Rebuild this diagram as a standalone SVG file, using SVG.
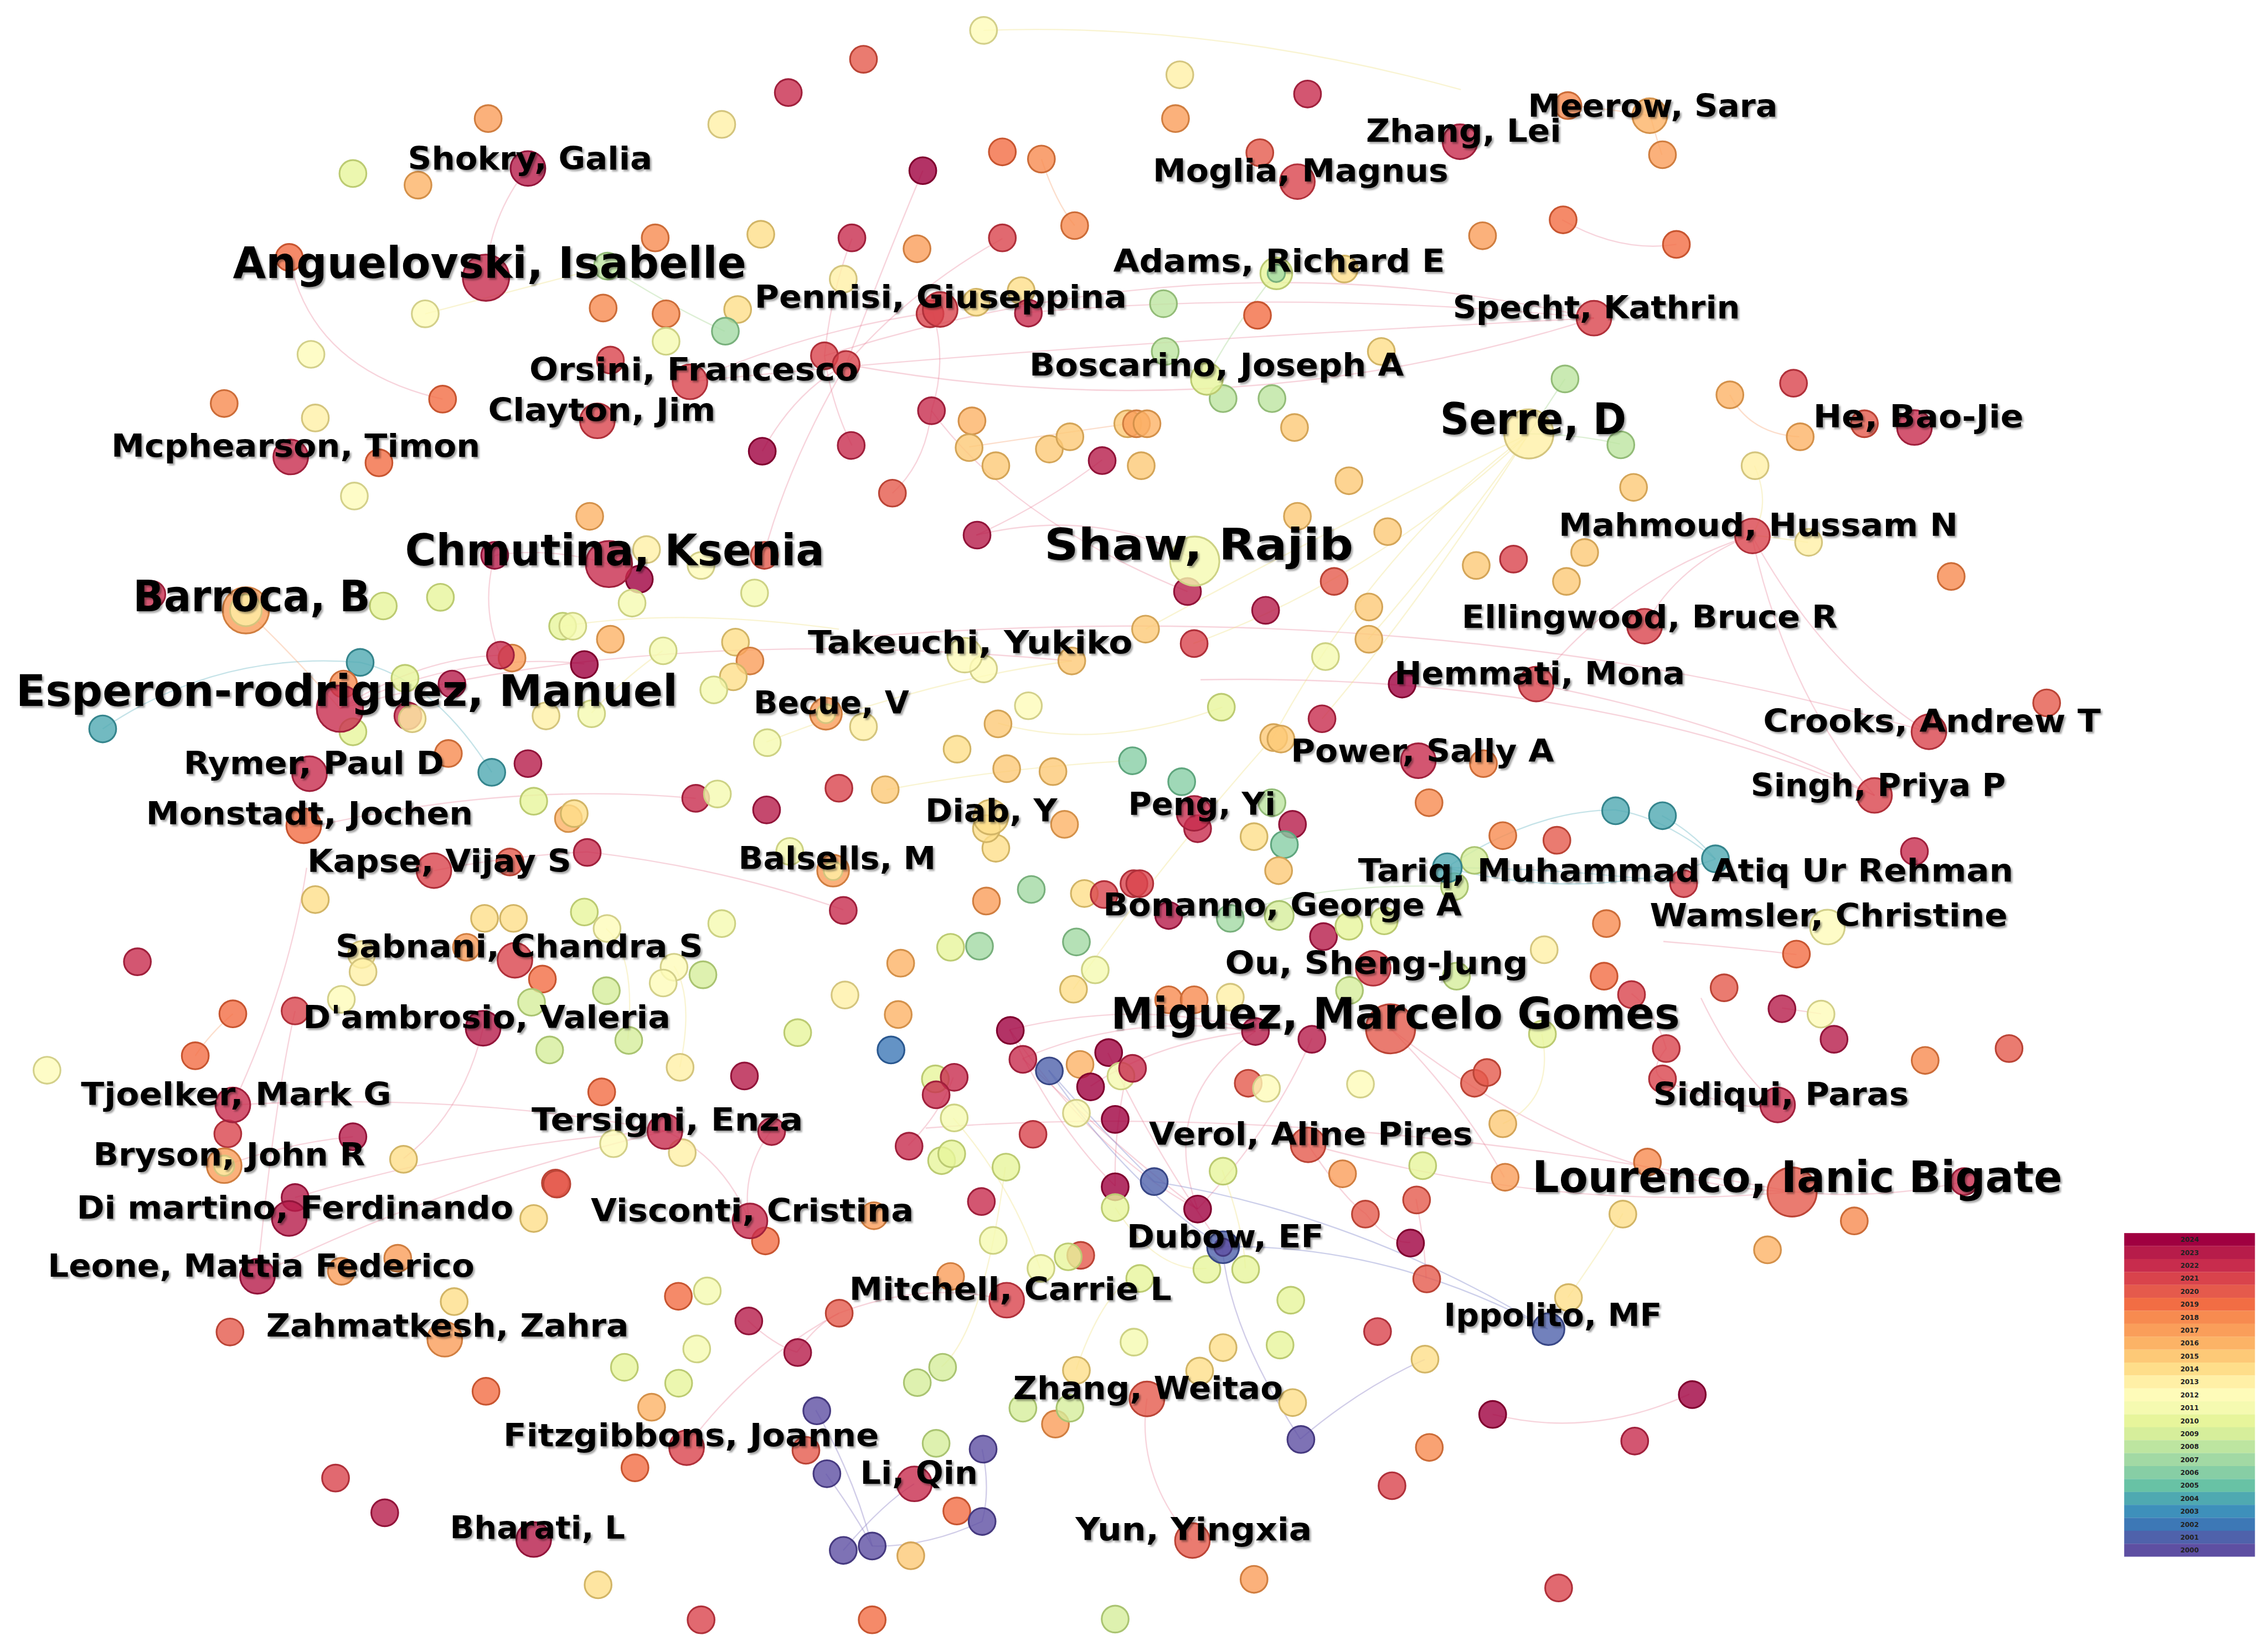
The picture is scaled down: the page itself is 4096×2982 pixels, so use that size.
<svg xmlns="http://www.w3.org/2000/svg" width="4096" height="2982" viewBox="0 0 4096 2982">
<defs>
<filter id="sh" x="-5%" y="-30%" width="110%" height="160%"><feDropShadow dx="1.2" dy="1.3" stdDeviation="0.7" flood-color="#000" flood-opacity="0.35"/></filter>
<style>
circle{stroke-width:1.2;fill-opacity:0.8}
.c24{fill:#a00040;stroke:#80002f}.c23{fill:#b71c4a;stroke:#92143a}.c22{fill:#c82c4d;stroke:#a0203c}.c21{fill:#d9434c;stroke:#b0303a}.c20{fill:#e55a4c;stroke:#bb4436}
.c19{fill:#f26d44;stroke:#c85530}.c18{fill:#f78b50;stroke:#cc6c38}.c17{fill:#fa9e5a;stroke:#d07e40}.c16{fill:#fcb366;stroke:#d4914a}.c15{fill:#fdc977;stroke:#d4a558}
.c14{fill:#fede8a;stroke:#d2b566}.c13{fill:#fff0a6;stroke:#d4c57e}.c12{fill:#fefbb9;stroke:#d3d08a}.c11{fill:#f5fab0;stroke:#cdd284}.c10{fill:#e7f59b;stroke:#bccb72}
.c09{fill:#d6ee9b;stroke:#aac472}.c08{fill:#bde5a0;stroke:#93bc78}.c07{fill:#a2d9a4;stroke:#78b07c}.c06{fill:#87cea5;stroke:#5fa67e}.c05{fill:#68c2a5;stroke:#459a7f}
.c04{fill:#4fa9b1;stroke:#35858d}.c03{fill:#3e90bb;stroke:#2a6f95}.c02{fill:#3d78b6;stroke:#2a5890}.c01{fill:#4f62ab;stroke:#384786}.c00{fill:#5e4fa2;stroke:#463a80}
path{fill:none;stroke-width:0.9}
.er{stroke:#e8849a;stroke-opacity:0.35}.ey{stroke:#efe38e;stroke-opacity:0.4}.eo{stroke:#f7ad80;stroke-opacity:0.4}.eb{stroke:#8f95d0;stroke-opacity:0.45}
.ep{stroke:#9a90cc;stroke-opacity:0.45}.et{stroke:#7fc0cc;stroke-opacity:0.45}.eg{stroke:#b3dca2;stroke-opacity:0.45}
.lb{font-family:"DejaVu Sans","Liberation Sans",sans-serif;font-weight:bold;font-size:22px;fill:#000;filter:url(#sh)}
.lg{font-size:30px}
.yr{font-family:"DejaVu Sans","Liberation Sans",sans-serif;font-weight:bold;font-size:4.6px;fill:#222;text-anchor:middle}
</style>
</defs>
<rect width="4096" height="2982" fill="#fff"/>
<g transform="scale(2.6122)">
<g id="connectors">
<path class="er" d="M336,192 Q338,150 365,116"/>
<path class="er" d="M200,178 Q215,255 306,276"/>
<path class="er" d="M570,246 Q840,160 1102,220"/>
<path class="er" d="M585,252 Q850,300 1102,220"/>
<path class="er" d="M477,264 Q560,228 645,216"/>
<path class="er" d="M585,252 Q630,200 693,165"/>
<path class="er" d="M570,246 Q575,200 589,165"/>
<path class="er" d="M585,252 Q612,180 638,118"/>
<path class="er" d="M527,312 Q550,270 585,252"/>
<path class="er" d="M589,308 Q575,280 570,246"/>
<path class="er" d="M644,284 Q655,250 645,216"/>
<path class="er" d="M644,284 Q640,320 617,341"/>
<path class="er" d="M644,284 Q700,360 821,409"/>
<path class="er" d="M585,252 Q545,320 528,384"/>
<path class="er" d="M711,216 Q900,200 1102,220"/>
<path class="er" d="M477,264 Q700,240 1102,220"/>
<path class="er" d="M675,370 Q760,350 828,388"/>
<path class="er" d="M762,318 Q720,350 675,370"/>
<path class="er" d="M1211,370 Q1160,390 1137,433"/>
<path class="er" d="M1211,370 Q1235,480 1296,550"/>
<path class="er" d="M1211,370 Q1120,400 1062,473"/>
<path class="er" d="M1211,370 Q1260,460 1333,506"/>
<path class="er" d="M830,470 Q1100,465 1296,550"/>
<path class="er" d="M600,440 Q1000,410 1333,506"/>
<path class="er" d="M1062,473 Q1200,500 1296,550"/>
<path class="er" d="M421,390 Q380,378 342,384"/>
<path class="er" d="M342,384 Q332,420 346,453"/>
<path class="er" d="M235,490 Q290,455 346,453"/>
<path class="er" d="M235,490 Q320,450 404,459"/>
<path class="er" d="M235,490 Q450,430 741,457"/>
<path class="er" d="M300,602 Q350,592 406,589"/>
<path class="er" d="M406,589 Q500,600 583,629"/>
<path class="er" d="M210,573 Q350,540 481,552"/>
<path class="er" d="M161,764 Q320,755 460,782"/>
<path class="er" d="M204,828 Q330,790 460,782"/>
<path class="er" d="M178,882 Q300,820 460,782"/>
<path class="er" d="M161,764 Q200,680 212,600"/>
<path class="er" d="M178,882 Q190,760 204,699"/>
<path class="er" d="M334,711 Q320,770 279,801"/>
<path class="er" d="M460,782 Q500,800 518,844"/>
<path class="er" d="M533,782 Q512,810 518,844"/>
<path class="er" d="M698,712 Q730,780 771,820"/>
<path class="er" d="M698,712 Q760,800 828,836"/>
<path class="er" d="M707,732 Q780,800 828,836"/>
<path class="er" d="M766,728 Q800,800 845,862"/>
<path class="er" d="M780,738 Q770,780 771,820"/>
<path class="er" d="M868,713 Q800,760 828,836"/>
<path class="er" d="M868,713 Q780,700 707,732"/>
<path class="er" d="M868,713 Q800,720 754,751"/>
<path class="er" d="M907,718 Q880,780 828,836"/>
<path class="er" d="M698,712 Q790,690 868,713"/>
<path class="er" d="M659,745 Q650,770 628,792"/>
<path class="er" d="M961,711 Q1100,820 1239,824"/>
<path class="er" d="M961,711 Q1010,760 1040,814"/>
<path class="er" d="M904,791 Q1080,840 1239,824"/>
<path class="er" d="M1128,687 Q1145,700 1152,725"/>
<path class="er" d="M1152,725 Q1140,740 1149,746"/>
<path class="er" d="M1149,746 Q1200,770 1229,764"/>
<path class="er" d="M1176,690 Q1200,740 1229,764"/>
<path class="er" d="M1232,697 L1259,701"/>
<path class="er" d="M1032,978 Q1100,995 1168,964"/>
<path class="er" d="M824,1065 Q785,1020 793,967"/>
<path class="er" d="M1080,152 Q1120,175 1159,169"/>
<path class="er" d="M474,1001 Q520,940 580,908"/>
<path class="er" d="M517,913 Q535,930 551,935"/>
<path class="er" d="M551,935 Q565,915 580,908"/>
<path class="er" d="M696,899 Q640,885 580,908"/>
<path class="er" d="M944,839 Q960,860 975,859"/>
<path class="er" d="M979,829 Q985,860 986,884"/>
<path class="er" d="M904,791 Q930,830 944,839"/>
<path class="er" d="M1358,817 Q1300,830 1239,824"/>
<path class="er" d="M1150,651 Q1200,655 1242,660"/>
<path class="er" d="M155,806 Q200,790 244,786"/>
<path class="er" d="M640,780 Q900,760 1239,824"/>
<path class="eb" d="M725,740 Q780,820 845,862"/>
<path class="eb" d="M845,862 Q960,860 1070,919"/>
<path class="eb" d="M798,817 Q940,840 1070,919"/>
<path class="eb" d="M725,740 Q760,780 798,817"/>
<path class="ep" d="M845,862 Q850,920 899,995"/>
<path class="ep" d="M564,975 Q590,1020 603,1069"/>
<path class="ep" d="M571,1019 Q590,1045 603,1069"/>
<path class="ep" d="M679,1002 Q685,1030 679,1052"/>
<path class="ep" d="M603,1069 Q640,1070 679,1052"/>
<path class="ep" d="M583,1072 Q610,1040 632,1026"/>
<path class="ep" d="M899,995 Q940,960 985,940"/>
<path class="et" d="M1117,560 Q1150,565 1186,594"/>
<path class="et" d="M1149,564 Q1170,575 1186,594"/>
<path class="et" d="M1000,600 Q1060,560 1117,560"/>
<path class="et" d="M1000,600 Q1100,625 1186,594"/>
<path class="et" d="M71,504 Q150,450 249,458"/>
<path class="et" d="M249,458 Q300,470 340,534"/>
<path class="et" d="M1000,600 Q1080,600 1164,611"/>
<path class="ey" d="M1057,300 Q950,380 880,510"/>
<path class="ey" d="M1057,300 Q930,360 792,435"/>
<path class="ey" d="M1057,300 Q950,400 825,445"/>
<path class="ey" d="M1057,300 Q1000,380 946,442"/>
<path class="ey" d="M1057,300 Q980,420 914,497"/>
<path class="ey" d="M680,21 Q840,15 1010,62"/>
<path class="ey" d="M613,546 Q700,530 781,526"/>
<path class="ey" d="M530,513 Q640,470 741,457"/>
<path class="ey" d="M742,684 Q800,600 880,510"/>
<path class="ey" d="M1213,322 Q1225,350 1211,370"/>
<path class="ey" d="M1250,375 Q1230,372 1211,370"/>
<path class="ey" d="M659,773 Q700,820 719,877"/>
<path class="ey" d="M651,945 Q680,920 695,807"/>
<path class="ey" d="M744,947 Q760,900 781,884"/>
<path class="ey" d="M419,642 Q440,660 434,719"/>
<path class="ey" d="M466,668 Q480,690 470,738"/>
<path class="ey" d="M1066,715 Q1075,760 1039,777"/>
<path class="ey" d="M1084,897 Q1110,860 1122,839"/>
<path class="ey" d="M409,493 Q430,470 458,450"/>
<path class="ey" d="M294,217 Q360,200 420,184"/>
<path class="ey" d="M389,433 Q470,420 580,435"/>
<path class="ey" d="M690,500 Q760,520 845,489"/>
<path class="ey" d="M771,835 Q800,880 834,877"/>
<path class="ey" d="M845,809 Q860,850 861,877"/>
<path class="eo" d="M235,490 Q200,450 170,422"/>
<path class="eo" d="M1196,273 Q1210,300 1244,302"/>
<path class="eo" d="M1084,73 Q1110,75 1141,80"/>
<path class="eo" d="M1141,80 Q1145,95 1149,107"/>
<path class="eo" d="M720,110 Q730,140 743,156"/>
<path class="eo" d="M161,701 Q145,715 135,730"/>
<path class="eo" d="M670,309 Q730,300 780,293"/>
<path class="eg" d="M882,189 Q850,230 834,262"/>
<path class="eg" d="M805,243 Q820,255 834,262"/>
<path class="eg" d="M420,184 Q460,210 501,229"/>
<path class="eg" d="M1082,262 Q1070,280 1057,300"/>
<path class="eg" d="M1120,307 Q1090,300 1057,300"/>
<path class="eg" d="M850,635 Q900,610 1005,613"/>
</g>
<g id="nodes">
<g id="n1"><circle class="c17" cx="337.5" cy="82" r="9.3"/></g>
<g id="n2"><circle class="c10" cx="244" cy="120" r="9.3"/></g>
<g id="n3"><circle class="c16" cx="289" cy="128" r="9.3"/></g>
<g id="n4"><circle class="c19" cx="200" cy="178" r="9.3"/></g>
<g id="n5"><circle class="c12" cx="294" cy="217" r="9.3"/></g>
<g id="n6"><circle class="c12" cx="215" cy="245" r="9.3"/></g>
<g id="n7"><circle class="c18" cx="155" cy="279" r="9.3"/></g>
<g id="n8"><circle class="c19" cx="306" cy="276" r="9.3"/></g>
<g id="n9"><circle class="c13" cx="218" cy="289" r="9.3"/></g>
<g id="n10"><circle class="c19" cx="262" cy="320" r="9.3"/></g>
<g id="n11"><circle class="c12" cx="245" cy="343" r="9.3"/></g>
<g id="n12"><circle class="c23" cx="342" cy="384" r="9.3"/></g>
<g id="n13"><circle class="c22" cx="105" cy="411" r="9.3"/></g>
<g id="n14"><circle class="c10" cx="265" cy="419" r="9.3"/></g>
<g id="n15"><circle class="c10" cx="304.5" cy="413" r="9.3"/></g>
<g id="n16"><circle class="c10" cx="389" cy="433" r="9.3"/></g>
<g id="n17"><circle class="c04" cx="249" cy="458" r="9.3"/></g>
<g id="n18"><circle class="c17" cx="354" cy="455" r="9.3"/></g>
<g id="n19"><circle class="c22" cx="346" cy="453" r="9.3"/></g>
<g id="n20"><circle class="c10" cx="280" cy="469" r="9.3"/></g>
<g id="n21"><circle class="c18" cx="237.5" cy="473" r="9.3"/></g>
<g id="n22"><circle class="c23" cx="312.5" cy="473" r="9.3"/></g>
<g id="n23"><circle class="c22" cx="282" cy="495" r="9.3"/></g>
<g id="n24"><circle class="c13" cx="285" cy="497" r="9.3"/></g>
<g id="n25"><circle class="c13" cx="377.5" cy="495" r="9.3"/></g>
<g id="n26"><circle class="c10" cx="244" cy="506" r="9.3"/></g>
<g id="n27"><circle class="c04" cx="71" cy="504" r="9.3"/></g>
<g id="n28"><circle class="c18" cx="310" cy="521" r="9.3"/></g>
<g id="n29"><circle class="c04" cx="340" cy="534" r="9.3"/></g>
<g id="n30"><circle class="c23" cx="365" cy="528" r="9.3"/></g>
<g id="n31"><circle class="c10" cx="369" cy="554" r="9.3"/></g>
<g id="n32"><circle class="c16" cx="393" cy="566" r="9.3"/></g>
<g id="n33"><circle class="c12" cx="680" cy="21" r="9.3"/></g>
<g id="n34"><circle class="c20" cx="597" cy="41" r="9.3"/></g>
<g id="n35"><circle class="c22" cx="545" cy="64" r="9.3"/></g>
<g id="n36"><circle class="c13" cx="499" cy="86" r="9.3"/></g>
<g id="n37"><circle class="c19" cx="693" cy="105" r="9.3"/></g>
<g id="n38"><circle class="c18" cx="720" cy="110" r="9.3"/></g>
<g id="n39"><circle class="c24" cx="638" cy="118" r="9.3"/></g>
<g id="n40"><circle class="c18" cx="743" cy="156" r="9.3"/></g>
<g id="n41"><circle class="c18" cx="453" cy="164.5" r="9.3"/></g>
<g id="n42"><circle class="c14" cx="526" cy="162" r="9.3"/></g>
<g id="n43"><circle class="c22" cx="589" cy="164.5" r="9.3"/></g>
<g id="n44"><circle class="c17" cx="634" cy="172" r="9.3"/></g>
<g id="n45"><circle class="c21" cx="693" cy="164.5" r="9.3"/></g>
<g id="n46"><circle class="c08" cx="420" cy="184" r="9.3"/></g>
<g id="n47"><circle class="c13" cx="583" cy="193" r="9.3"/></g>
<g id="n48"><circle class="c18" cx="417" cy="213" r="9.3"/></g>
<g id="n49"><circle class="c18" cx="460.5" cy="217" r="9.3"/></g>
<g id="n50"><circle class="c14" cx="510" cy="214" r="9.3"/></g>
<g id="n51"><circle class="c07" cx="501.5" cy="229" r="9.3"/></g>
<g id="n52"><circle class="c11" cx="460.5" cy="236" r="9.3"/></g>
<g id="n53"><circle class="c14" cx="675" cy="209" r="9.3"/></g>
<g id="n54"><circle class="c14" cx="706" cy="201" r="9.3"/></g>
<g id="n55"><circle class="c22" cx="711" cy="216.5" r="9.3"/></g>
<g id="n56"><circle class="c21" cx="643" cy="217" r="9.3"/></g>
<g id="n57"><circle class="c21" cx="422" cy="249" r="9.3"/></g>
<g id="n58"><circle class="c21" cx="570" cy="246" r="9.3"/></g>
<g id="n59"><circle class="c21" cx="585" cy="252" r="9.3"/></g>
<g id="n60"><circle class="c22" cx="644" cy="284" r="9.3"/></g>
<g id="n61"><circle class="c24" cx="527" cy="312" r="9.3"/></g>
<g id="n62"><circle class="c22" cx="588.5" cy="308" r="9.3"/></g>
<g id="n63"><circle class="c20" cx="617" cy="341" r="9.3"/></g>
<g id="n64"><circle class="c16" cx="672" cy="291" r="9.3"/></g>
<g id="n65"><circle class="c15" cx="670" cy="309.5" r="9.3"/></g>
<g id="n66"><circle class="c15" cx="688.5" cy="322" r="9.3"/></g>
<g id="n67"><circle class="c15" cx="725.5" cy="310.5" r="9.3"/></g>
<g id="n68"><circle class="c15" cx="739.7" cy="302" r="9.3"/></g>
<g id="n69"><circle class="c15" cx="779.7" cy="293" r="9.3"/></g>
<g id="n70"><circle class="c15" cx="789" cy="322" r="9.3"/></g>
<g id="n71"><circle class="c23" cx="762" cy="318.5" r="9.3"/></g>
<g id="n72"><circle class="c23" cx="675.5" cy="370" r="9.3"/></g>
<g id="n73"><circle class="c16" cx="407.7" cy="357" r="9.3"/></g>
<g id="n74"><circle class="c13" cx="447" cy="380" r="9.3"/></g>
<g id="n75"><circle class="c24" cx="442" cy="400.5" r="9.3"/></g>
<g id="n76"><circle class="c12" cx="484.7" cy="391" r="9.3"/></g>
<g id="n77"><circle class="c20" cx="528.5" cy="384" r="9.3"/></g>
<g id="n78"><circle class="c11" cx="437" cy="417" r="9.3"/></g>
<g id="n79"><circle class="c11" cx="521.7" cy="410" r="9.3"/></g>
<g id="n80"><circle class="c11" cx="396" cy="433" r="9.3"/></g>
<g id="n81"><circle class="c16" cx="422" cy="442" r="9.3"/></g>
<g id="n82"><circle class="c11" cx="458.5" cy="450" r="9.3"/></g>
<g id="n83"><circle class="c14" cx="508.5" cy="444" r="9.3"/></g>
<g id="n84"><circle class="c17" cx="518.5" cy="457" r="9.3"/></g>
<g id="n85"><circle class="c14" cx="507" cy="468" r="9.3"/></g>
<g id="n86"><circle class="c24" cx="404" cy="459.5" r="9.3"/></g>
<g id="n87"><circle class="c11" cx="493.5" cy="477" r="9.3"/></g>
<g id="n88"><circle class="c11" cx="409" cy="493.5" r="9.3"/></g>
<g id="n89"><circle class="c13" cx="597" cy="502.5" r="9.3"/></g>
<g id="n90"><circle class="c11" cx="530.5" cy="513.5" r="9.3"/></g>
<g id="n91"><circle class="c12" cx="680" cy="462.5" r="9.3"/></g>
<g id="n92"><circle class="c15" cx="741" cy="457" r="9.3"/></g>
<g id="n93"><circle class="c12" cx="711" cy="488" r="9.3"/></g>
<g id="n94"><circle class="c15" cx="690" cy="500.5" r="9.3"/></g>
<g id="n95"><circle class="c14" cx="661.7" cy="518" r="9.3"/></g>
<g id="n96"><circle class="c15" cx="696" cy="531.5" r="9.3"/></g>
<g id="n97"><circle class="c15" cx="728" cy="533.5" r="9.3"/></g>
<g id="n98"><circle class="c06" cx="783" cy="526" r="9.3"/></g>
<g id="n99"><circle class="c22" cx="481" cy="552" r="9.3"/></g>
<g id="n100"><circle class="c11" cx="496" cy="549" r="9.3"/></g>
<g id="n101"><circle class="c23" cx="530" cy="560" r="9.3"/></g>
<g id="n102"><circle class="c21" cx="580" cy="545" r="9.3"/></g>
<g id="n103"><circle class="c15" cx="612" cy="546" r="9.3"/></g>
<g id="n104"><circle class="c14" cx="397" cy="562.5" r="9.3"/></g>
<g id="n105"><circle class="c16" cx="736" cy="570" r="9.3"/></g>
<g id="n106"><circle class="c13" cx="815.7" cy="51.7" r="9.3"/></g>
<g id="n107"><circle class="c22" cx="904" cy="65" r="9.3"/></g>
<g id="n108"><circle class="c17" cx="812.7" cy="82" r="9.3"/></g>
<g id="n109"><circle class="c20" cx="871" cy="105.6" r="9.3"/></g>
<g id="n110"><circle class="c18" cx="1084" cy="73" r="9.3"/></g>
<g id="n111"><circle class="c17" cx="1149.4" cy="107" r="9.3"/></g>
<g id="n112"><circle class="c17" cx="1025" cy="163" r="9.3"/></g>
<g id="n113"><circle class="c19" cx="1080.7" cy="152" r="9.3"/></g>
<g id="n114"><circle class="c19" cx="1159" cy="169" r="9.3"/></g>
<g id="n115"><circle class="c14" cx="929.4" cy="186" r="9.3"/></g>
<g id="n116"><circle class="c08" cx="804.4" cy="210" r="9.3"/></g>
<g id="n117"><circle class="c19" cx="869.4" cy="218" r="9.3"/></g>
<g id="n118"><circle class="c08" cx="805.6" cy="243" r="9.3"/></g>
<g id="n119"><circle class="c14" cx="955" cy="243" r="9.3"/></g>
<g id="n120"><circle class="c08" cx="845.6" cy="275.6" r="9.3"/></g>
<g id="n121"><circle class="c08" cx="879.4" cy="275.6" r="9.3"/></g>
<g id="n122"><circle class="c17" cx="785.7" cy="293" r="9.3"/></g>
<g id="n123"><circle class="c16" cx="793" cy="293" r="9.3"/></g>
<g id="n124"><circle class="c15" cx="895" cy="295.6" r="9.3"/></g>
<g id="n125"><circle class="c08" cx="1082" cy="262" r="9.3"/></g>
<g id="n126"><circle class="c08" cx="1120.6" cy="307.6" r="9.3"/></g>
<g id="n127"><circle class="c15" cx="1129.4" cy="337" r="9.3"/></g>
<g id="n128"><circle class="c15" cx="932.6" cy="332.4" r="9.3"/></g>
<g id="n129"><circle class="c15" cx="897" cy="357" r="9.3"/></g>
<g id="n130"><circle class="c15" cx="959.4" cy="367.6" r="9.3"/></g>
<g id="n131"><circle class="c23" cx="821" cy="409" r="9.3"/></g>
<g id="n132"><circle class="c23" cx="875" cy="422" r="9.3"/></g>
<g id="n133"><circle class="c20" cx="922.4" cy="402" r="9.3"/></g>
<g id="n134"><circle class="c15" cx="1020.6" cy="391" r="9.3"/></g>
<g id="n135"><circle class="c21" cx="1046.4" cy="386.6" r="9.3"/></g>
<g id="n136"><circle class="c15" cx="1095.6" cy="382" r="9.3"/></g>
<g id="n137"><circle class="c15" cx="1083" cy="402" r="9.3"/></g>
<g id="n138"><circle class="c15" cx="792" cy="435" r="9.3"/></g>
<g id="n139"><circle class="c21" cx="825.6" cy="445" r="9.3"/></g>
<g id="n140"><circle class="c15" cx="946.4" cy="419.7" r="9.3"/></g>
<g id="n141"><circle class="c15" cx="946.4" cy="442" r="9.3"/></g>
<g id="n142"><circle class="c11" cx="916.4" cy="454" r="9.3"/></g>
<g id="n143"><circle class="c24" cx="969.4" cy="473" r="9.3"/></g>
<g id="n144"><circle class="c10" cx="844.4" cy="489" r="9.3"/></g>
<g id="n145"><circle class="c22" cx="914" cy="497" r="9.3"/></g>
<g id="n146"><circle class="c15" cx="880.6" cy="510" r="9.3"/></g>
<g id="n147"><circle class="c15" cx="885.6" cy="511" r="9.3"/></g>
<g id="n148"><circle class="c18" cx="1025.6" cy="528" r="9.3"/></g>
<g id="n149"><circle class="c06" cx="817" cy="540.5" r="9.3"/></g>
<g id="n150"><circle class="c18" cx="988" cy="555" r="9.3"/></g>
<g id="n151"><circle class="c08" cx="879.4" cy="555" r="9.3"/></g>
<g id="n152"><circle class="c23" cx="893.6" cy="570" r="9.3"/></g>
<g id="n153"><circle class="c04" cx="1117" cy="560.6" r="9.3"/></g>
<g id="n154"><circle class="c04" cx="1149.4" cy="564" r="9.3"/></g>
<g id="n155"><circle class="c16" cx="1196" cy="273" r="9.3"/></g>
<g id="n156"><circle class="c21" cx="1240" cy="265" r="9.3"/></g>
<g id="n157"><circle class="c16" cx="1244.6" cy="302" r="9.3"/></g>
<g id="n158"><circle class="c20" cx="1289" cy="293" r="9.3"/></g>
<g id="n159"><circle class="c13" cx="1213.4" cy="322" r="9.3"/></g>
<g id="n160"><circle class="c13" cx="1250.4" cy="375" r="9.3"/></g>
<g id="n161"><circle class="c18" cx="1349" cy="398.6" r="9.3"/></g>
<g id="n162"><circle class="c20" cx="1415" cy="486" r="9.3"/></g>
<g id="n163"><circle class="c14" cx="218" cy="622" r="9.3"/></g>
<g id="n164"><circle class="c20" cx="352.5" cy="596" r="9.3"/></g>
<g id="n165"><circle class="c14" cx="335" cy="635" r="9.3"/></g>
<g id="n166"><circle class="c14" cx="355" cy="635" r="9.3"/></g>
<g id="n167"><circle class="c22" cx="95" cy="665" r="9.3"/></g>
<g id="n168"><circle class="c17" cx="322.5" cy="655" r="9.3"/></g>
<g id="n169"><circle class="c13" cx="250" cy="660" r="9.3"/></g>
<g id="n170"><circle class="c13" cx="251" cy="672" r="9.3"/></g>
<g id="n171"><circle class="c19" cx="375" cy="677" r="9.3"/></g>
<g id="n172"><circle class="c12" cx="236" cy="691" r="9.3"/></g>
<g id="n173"><circle class="c09" cx="367.5" cy="693" r="9.3"/></g>
<g id="n174"><circle class="c19" cx="161" cy="701" r="9.3"/></g>
<g id="n175"><circle class="c21" cx="204" cy="699" r="9.3"/></g>
<g id="n176"><circle class="c09" cx="380" cy="726" r="9.3"/></g>
<g id="n177"><circle class="c19" cx="135" cy="730" r="9.3"/></g>
<g id="n178"><circle class="c12" cx="32.5" cy="740" r="9.3"/></g>
<g id="n179"><circle class="c21" cx="157.5" cy="784" r="9.3"/></g>
<g id="n180"><circle class="c23" cx="244" cy="786" r="9.3"/></g>
<g id="n181"><circle class="c14" cx="279" cy="801.6" r="9.3"/></g>
<g id="n182"><circle class="c23" cx="204" cy="828" r="9.3"/></g>
<g id="n183"><circle class="c20" cx="384" cy="818" r="9.3"/></g>
<g id="n184"><circle class="c14" cx="369" cy="842.5" r="9.3"/></g>
<g id="n185"><circle class="c17" cx="236" cy="879" r="9.3"/></g>
<g id="n186"><circle class="c17" cx="275" cy="870" r="9.3"/></g>
<g id="n187"><circle class="c14" cx="314" cy="900" r="9.3"/></g>
<g id="n188"><circle class="c20" cx="159" cy="921" r="9.3"/></g>
<g id="n189"><circle class="c19" cx="336" cy="962" r="9.3"/></g>
<g id="n190"><circle class="c21" cx="232" cy="1022" r="9.3"/></g>
<g id="n191"><circle class="c23" cx="266" cy="1046" r="9.3"/></g>
<g id="n192"><circle class="c22" cx="406" cy="589.4" r="9.3"/></g>
<g id="n193"><circle class="c11" cx="546" cy="588.7" r="9.3"/></g>
<g id="n194"><circle class="c14" cx="688.5" cy="586.5" r="9.3"/></g>
<g id="n195"><circle class="c14" cx="682" cy="573" r="9.3"/></g>
<g id="n196"><circle class="c22" cx="583" cy="629.5" r="9.3"/></g>
<g id="n197"><circle class="c10" cx="404" cy="630.6" r="9.3"/></g>
<g id="n198"><circle class="c12" cx="419.7" cy="642" r="9.3"/></g>
<g id="n199"><circle class="c11" cx="499" cy="638.6" r="9.3"/></g>
<g id="n200"><circle class="c17" cx="682" cy="623" r="9.3"/></g>
<g id="n201"><circle class="c07" cx="713" cy="615" r="9.3"/></g>
<g id="n202"><circle class="c14" cx="749.7" cy="617.8" r="9.3"/></g>
<g id="n203"><circle class="c21" cx="763.4" cy="618.5" r="9.3"/></g>
<g id="n204"><circle class="c21" cx="784" cy="611" r="9.3"/></g>
<g id="n205"><circle class="c12" cx="466" cy="668.8" r="9.3"/></g>
<g id="n206"><circle class="c09" cx="486" cy="674" r="9.3"/></g>
<g id="n207"><circle class="c12" cx="458.5" cy="679.7" r="9.3"/></g>
<g id="n208"><circle class="c09" cx="419.2" cy="685" r="9.3"/></g>
<g id="n209"><circle class="c16" cx="622.7" cy="666" r="9.3"/></g>
<g id="n210"><circle class="c10" cx="657.2" cy="655" r="9.3"/></g>
<g id="n211"><circle class="c07" cx="677.2" cy="654.2" r="9.3"/></g>
<g id="n212"><circle class="c07" cx="744.2" cy="651.3" r="9.3"/></g>
<g id="n213"><circle class="c11" cx="757.2" cy="670.6" r="9.3"/></g>
<g id="n214"><circle class="c14" cx="742.2" cy="684" r="9.3"/></g>
<g id="n215"><circle class="c13" cx="584.2" cy="688" r="9.3"/></g>
<g id="n216"><circle class="c16" cx="621" cy="701.5" r="9.3"/></g>
<g id="n217"><circle class="c10" cx="551.5" cy="714" r="9.3"/></g>
<g id="n218"><circle class="c09" cx="434.7" cy="719.4" r="9.3"/></g>
<g id="n219"><circle class="c02" cx="616" cy="726" r="9.3"/></g>
<g id="n220"><circle class="c24" cx="698.5" cy="712.5" r="9.3"/></g>
<g id="n221"><circle class="c22" cx="707.2" cy="732.5" r="9.3"/></g>
<g id="n222"><circle class="c01" cx="725.5" cy="740.5" r="9.3"/></g>
<g id="n223"><circle class="c16" cx="746.7" cy="736" r="9.3"/></g>
<g id="n224"><circle class="c24" cx="766.5" cy="727.8" r="9.3"/></g>
<g id="n225"><circle class="c11" cx="775" cy="744" r="9.3"/></g>
<g id="n226"><circle class="c22" cx="783" cy="738.7" r="9.3"/></g>
<g id="n227"><circle class="c24" cx="754" cy="751.5" r="9.3"/></g>
<g id="n228"><circle class="c24" cx="771" cy="774" r="9.3"/></g>
<g id="n229"><circle class="c12" cx="744.2" cy="769.7" r="9.3"/></g>
<g id="n230"><circle class="c13" cx="470.2" cy="738" r="9.3"/></g>
<g id="n231"><circle class="c23" cx="514.7" cy="744" r="9.3"/></g>
<g id="n232"><circle class="c19" cx="416" cy="755" r="9.3"/></g>
<g id="n233"><circle class="c10" cx="646.7" cy="746" r="9.3"/></g>
<g id="n234"><circle class="c22" cx="659.7" cy="744.9" r="9.3"/></g>
<g id="n235"><circle class="c22" cx="647.2" cy="757" r="9.3"/></g>
<g id="n236"><circle class="c11" cx="659.7" cy="773" r="9.3"/></g>
<g id="n237"><circle class="c22" cx="628.5" cy="792.5" r="9.3"/></g>
<g id="n238"><circle class="c10" cx="651" cy="802.5" r="9.3"/></g>
<g id="n239"><circle class="c10" cx="658" cy="797.8" r="9.3"/></g>
<g id="n240"><circle class="c10" cx="695.5" cy="807" r="9.3"/></g>
<g id="n241"><circle class="c21" cx="714.2" cy="784.3" r="9.3"/></g>
<g id="n242"><circle class="c12" cx="424.2" cy="790.8" r="9.3"/></g>
<g id="n243"><circle class="c13" cx="471.7" cy="797" r="9.3"/></g>
<g id="n244"><circle class="c22" cx="533.5" cy="782.4" r="9.3"/></g>
<g id="n245"><circle class="c20" cx="385" cy="818.7" r="9.3"/></g>
<g id="n246"><circle class="c19" cx="529.2" cy="858" r="9.3"/></g>
<g id="n247"><circle class="c17" cx="604.2" cy="840.6" r="9.3"/></g>
<g id="n248"><circle class="c22" cx="678.5" cy="830.8" r="9.3"/></g>
<g id="n249"><circle class="c24" cx="771" cy="820.6" r="9.3"/></g>
<g id="n250"><circle class="c10" cx="771" cy="835" r="9.3"/></g>
<g id="n251"><circle class="c11" cx="686.7" cy="857.7" r="9.3"/></g>
<g id="n252"><circle class="c11" cx="719.7" cy="877" r="9.3"/></g>
<g id="n253"><circle class="c20" cx="747.2" cy="868" r="9.3"/></g>
<g id="n254"><circle class="c10" cx="738.5" cy="869" r="9.3"/></g>
<g id="n255"><circle class="c17" cx="657.2" cy="882.6" r="9.3"/></g>
<g id="n256"><circle class="c10" cx="788" cy="884" r="9.3"/></g>
<g id="n257"><circle class="c19" cx="469" cy="896.3" r="9.3"/></g>
<g id="n258"><circle class="c11" cx="489" cy="892.6" r="9.3"/></g>
<g id="n259"><circle class="c23" cx="517.7" cy="913.4" r="9.3"/></g>
<g id="n260"><circle class="c20" cx="580.2" cy="908" r="9.3"/></g>
<g id="n261"><circle class="c23" cx="551.5" cy="935.2" r="9.3"/></g>
<g id="n262"><circle class="c11" cx="481.7" cy="932.7" r="9.3"/></g>
<g id="n263"><circle class="c10" cx="431.7" cy="945.4" r="9.3"/></g>
<g id="n264"><circle class="c10" cx="469.2" cy="956.4" r="9.3"/></g>
<g id="n265"><circle class="c16" cx="450.5" cy="973" r="9.3"/></g>
<g id="n266"><circle class="c09" cx="651.7" cy="945.4" r="9.3"/></g>
<g id="n267"><circle class="c09" cx="634.2" cy="956" r="9.3"/></g>
<g id="n268"><circle class="c14" cx="744.2" cy="947.5" r="9.3"/></g>
<g id="n269"><circle class="c11" cx="784" cy="928" r="9.3"/></g>
<g id="n270"><circle class="c09" cx="707.2" cy="973.7" r="9.3"/></g>
<g id="n271"><circle class="c17" cx="729.7" cy="984.7" r="9.3"/></g>
<g id="n272"><circle class="c09" cx="739.7" cy="973.7" r="9.3"/></g>
<g id="n273"><circle class="c00" cx="564.7" cy="975.5" r="9.3"/></g>
<g id="n274"><circle class="c20" cx="557.2" cy="1002.8" r="9.3"/></g>
<g id="n275"><circle class="c19" cx="439" cy="1014.9" r="9.3"/></g>
<g id="n276"><circle class="c00" cx="571.7" cy="1019" r="9.3"/></g>
<g id="n277"><circle class="c09" cx="647.2" cy="998" r="9.3"/></g>
<g id="n278"><circle class="c00" cx="679.7" cy="1002" r="9.3"/></g>
<g id="n279"><circle class="c19" cx="661.5" cy="1044.8" r="9.3"/></g>
<g id="n280"><circle class="c00" cx="679" cy="1052" r="9.3"/></g>
<g id="n281"><circle class="c00" cx="583" cy="1072" r="9.3"/></g>
<g id="n282"><circle class="c00" cx="603" cy="1069" r="9.3"/></g>
<g id="n283"><circle class="c15" cx="629.7" cy="1075.7" r="9.3"/></g>
<g id="n284"><circle class="c14" cx="413.5" cy="1095.8" r="9.3"/></g>
<g id="n285"><circle class="c21" cx="484.7" cy="1120" r="9.3"/></g>
<g id="n286"><circle class="c19" cx="603" cy="1120" r="9.3"/></g>
<g id="n287"><circle class="c09" cx="771" cy="1119.5" r="9.3"/></g>
<g id="n288"><circle class="c22" cx="828" cy="573" r="9.3"/></g>
<g id="n289"><circle class="c14" cx="867" cy="578.5" r="9.3"/></g>
<g id="n290"><circle class="c06" cx="888" cy="584" r="9.3"/></g>
<g id="n291"><circle class="c15" cx="884" cy="602" r="9.3"/></g>
<g id="n292"><circle class="c21" cx="788" cy="611" r="9.3"/></g>
<g id="n293"><circle class="c18" cx="1039" cy="577.8" r="9.3"/></g>
<g id="n294"><circle class="c20" cx="1076.4" cy="581" r="9.3"/></g>
<g id="n295"><circle class="c09" cx="1019.4" cy="594.9" r="9.3"/></g>
<g id="n296"><circle class="c09" cx="1005.6" cy="613" r="9.3"/></g>
<g id="n297"><circle class="c21" cx="1164" cy="611" r="9.3"/></g>
<g id="n298"><circle class="c23" cx="808" cy="633" r="9.3"/></g>
<g id="n299"><circle class="c07" cx="850.6" cy="635" r="9.3"/></g>
<g id="n300"><circle class="c23" cx="915" cy="647.6" r="9.3"/></g>
<g id="n301"><circle class="c10" cx="932.6" cy="640.4" r="9.3"/></g>
<g id="n302"><circle class="c10" cx="957" cy="636.7" r="9.3"/></g>
<g id="n303"><circle class="c18" cx="1110.6" cy="638.6" r="9.3"/></g>
<g id="n304"><circle class="c13" cx="1067.6" cy="656.7" r="9.3"/></g>
<g id="n305"><circle class="c09" cx="1007" cy="675" r="9.3"/></g>
<g id="n306"><circle class="c09" cx="933" cy="684.8" r="9.3"/></g>
<g id="n307"><circle class="c19" cx="1109" cy="675" r="9.3"/></g>
<g id="n308"><circle class="c21" cx="1128" cy="687.7" r="9.3"/></g>
<g id="n309"><circle class="c18" cx="808" cy="691.3" r="9.3"/></g>
<g id="n310"><circle class="c18" cx="825.6" cy="691.3" r="9.3"/></g>
<g id="n311"><circle class="c13" cx="850.6" cy="689.5" r="9.3"/></g>
<g id="n312"><circle class="c23" cx="868" cy="713.2" r="9.3"/></g>
<g id="n313"><circle class="c23" cx="907" cy="718.6" r="9.3"/></g>
<g id="n314"><circle class="c10" cx="1066.4" cy="715" r="9.3"/></g>
<g id="n315"><circle class="c21" cx="1152" cy="725" r="9.3"/></g>
<g id="n316"><circle class="c20" cx="863" cy="749" r="9.3"/></g>
<g id="n317"><circle class="c12" cx="875.6" cy="752.5" r="9.3"/></g>
<g id="n318"><circle class="c12" cx="940.6" cy="749.6" r="9.3"/></g>
<g id="n319"><circle class="c20" cx="1019.4" cy="749" r="9.3"/></g>
<g id="n320"><circle class="c20" cx="1028" cy="741.6" r="9.3"/></g>
<g id="n321"><circle class="c21" cx="1149.4" cy="746" r="9.3"/></g>
<g id="n322"><circle class="c15" cx="1039" cy="777" r="9.3"/></g>
<g id="n323"><circle class="c10" cx="845.6" cy="809.8" r="9.3"/></g>
<g id="n324"><circle class="c17" cx="928.2" cy="811.6" r="9.3"/></g>
<g id="n325"><circle class="c10" cx="983.6" cy="806" r="9.3"/></g>
<g id="n326"><circle class="c17" cx="1040.6" cy="814" r="9.3"/></g>
<g id="n327"><circle class="c18" cx="1139" cy="803.5" r="9.3"/></g>
<g id="n328"><circle class="c01" cx="798" cy="817" r="9.3"/></g>
<g id="n329"><circle class="c24" cx="828" cy="836" r="9.3"/></g>
<g id="n330"><circle class="c20" cx="944" cy="839.5" r="9.3"/></g>
<g id="n331"><circle class="c20" cx="979.4" cy="829.7" r="9.3"/></g>
<g id="n332"><circle class="c14" cx="1122" cy="839.5" r="9.3"/></g>
<g id="n333"><circle class="c24" cx="975.2" cy="859.5" r="9.3"/></g>
<g id="n334"><circle class="c10" cx="834.4" cy="877.7" r="9.3"/></g>
<g id="n335"><circle class="c10" cx="861.2" cy="877.7" r="9.3"/></g>
<g id="n336"><circle class="c20" cx="986.4" cy="884.3" r="9.3"/></g>
<g id="n337"><circle class="c10" cx="892.4" cy="899" r="9.3"/></g>
<g id="n338"><circle class="c14" cx="1084.4" cy="897.2" r="9.3"/></g>
<g id="n339"><circle class="c21" cx="952.4" cy="920.7" r="9.3"/></g>
<g id="n340"><circle class="c14" cx="845.6" cy="931.8" r="9.3"/></g>
<g id="n341"><circle class="c10" cx="885" cy="930" r="9.3"/></g>
<g id="n342"><circle class="c14" cx="985.2" cy="939.8" r="9.3"/></g>
<g id="n343"><circle class="c14" cx="829.4" cy="948" r="9.3"/></g>
<g id="n344"><circle class="c14" cx="893.7" cy="969.8" r="9.3"/></g>
<g id="n345"><circle class="c00" cx="899.4" cy="995.3" r="9.3"/></g>
<g id="n346"><circle class="c18" cx="988.2" cy="1000.8" r="9.3"/></g>
<g id="n347"><circle class="c24" cx="1032" cy="978" r="9.3"/></g>
<g id="n348"><circle class="c24" cx="1170" cy="964.3" r="9.3"/></g>
<g id="n349"><circle class="c22" cx="1130.2" cy="996.4" r="9.3"/></g>
<g id="n350"><circle class="c21" cx="962.4" cy="1027.3" r="9.3"/></g>
<g id="n351"><circle class="c17" cx="867" cy="1092" r="9.3"/></g>
<g id="n352"><circle class="c21" cx="1077.6" cy="1098" r="9.3"/></g>
<g id="n353"><circle class="c04" cx="1186" cy="593.8" r="9.3"/></g>
<g id="n354"><circle class="c22" cx="1323.6" cy="588.7" r="9.3"/></g>
<g id="n355"><circle class="c19" cx="1242" cy="659.7" r="9.3"/></g>
<g id="n356"><circle class="c20" cx="1192" cy="683" r="9.3"/></g>
<g id="n357"><circle class="c23" cx="1232" cy="697.5" r="9.3"/></g>
<g id="n358"><circle class="c12" cx="1259" cy="701.2" r="9.3"/></g>
<g id="n359"><circle class="c23" cx="1268" cy="718.6" r="9.3"/></g>
<g id="n360"><circle class="c18" cx="1331" cy="733.2" r="9.3"/></g>
<g id="n361"><circle class="c20" cx="1389" cy="725" r="9.3"/></g>
<g id="n362"><circle class="c22" cx="1358" cy="817" r="9.3"/></g>
<g id="n363"><circle class="c18" cx="1282" cy="844.2" r="9.3"/></g>
<g id="n364"><circle class="c16" cx="1222" cy="864.2" r="9.3"/></g>
</g>
<g id="labeled-nodes">
<g id="shokry"><circle class="c23" cx="365" cy="116.5" r="12"/><text class="lb" x="282" y="117" textLength="169" lengthAdjust="spacingAndGlyphs">Shokry, Galia</text></g>
<g id="meerow"><circle class="c16" cx="1140.6" cy="80" r="12"/><text class="lb" x="1056.4" y="80.8" textLength="172.6" lengthAdjust="spacingAndGlyphs">Meerow, Sara</text></g>
<g id="zhanglei"><circle class="c22" cx="1009.4" cy="98" r="12"/><text class="lb" x="944.4" y="98" textLength="135" lengthAdjust="spacingAndGlyphs">Zhang, Lei</text></g>
<g id="moglia"><circle class="c21" cx="897" cy="125.6" r="12"/><text class="lb" x="797" y="125.6" textLength="204.4" lengthAdjust="spacingAndGlyphs">Moglia, Magnus</text></g>
<g id="anguelovski"><circle class="c22" cx="336" cy="192" r="16"/><text class="lb lg" x="161" y="192" textLength="355" lengthAdjust="spacingAndGlyphs">Anguelovski, Isabelle</text></g>
<g id="adams"><circle class="c10" cx="882.4" cy="189" r="11"/><circle class="c07" cx="882.4" cy="189" r="6"/><text class="lb" x="769.7" y="188" textLength="229.3" lengthAdjust="spacingAndGlyphs">Adams, Richard E</text></g>
<g id="pennisi"><circle class="c21" cx="650" cy="214" r="12"/><text class="lb" x="521.7" y="213" textLength="257.3" lengthAdjust="spacingAndGlyphs">Pennisi, Giuseppina</text></g>
<g id="specht"><circle class="c21" cx="1102" cy="220" r="12"/><text class="lb" x="1004.4" y="220" textLength="198.6" lengthAdjust="spacingAndGlyphs">Specht, Kathrin</text></g>
<g id="orsini"><circle class="c21" cx="477" cy="264" r="12"/><text class="lb" x="366" y="263" textLength="227.5" lengthAdjust="spacingAndGlyphs">Orsini, Francesco</text></g>
<g id="boscarino"><circle class="c10" cx="834.4" cy="262" r="11"/><text class="lb" x="711.7" y="260" textLength="258.9" lengthAdjust="spacingAndGlyphs">Boscarino, Joseph A</text></g>
<g id="clayton"><circle class="c21" cx="413" cy="291" r="12"/><text class="lb" x="337.5" y="291" textLength="157.2" lengthAdjust="spacingAndGlyphs">Clayton, Jim</text></g>
<g id="serre"><circle class="c13" cx="1057" cy="300" r="17"/><text class="lb lg" x="995.6" y="300.3" textLength="128.8" lengthAdjust="spacingAndGlyphs">Serre, D</text></g>
<g id="he"><circle class="c22" cx="1323.6" cy="295.6" r="12"/><text class="lb" x="1253.6" y="295.6" textLength="145.4" lengthAdjust="spacingAndGlyphs">He, Bao-Jie</text></g>
<g id="mcphearson"><circle class="c22" cx="201" cy="316" r="12"/><text class="lb" x="77" y="316" textLength="255" lengthAdjust="spacingAndGlyphs">Mcphearson, Timon</text></g>
<g id="shaw"><circle class="c11" cx="826" cy="388" r="17"/><text class="lb lg" x="722" y="387" textLength="213.6" lengthAdjust="spacingAndGlyphs">Shaw, Rajib</text></g>
<g id="mahmoud"><circle class="c21" cx="1211.6" cy="370.6" r="12"/><text class="lb" x="1077.6" y="370.6" textLength="276" lengthAdjust="spacingAndGlyphs">Mahmoud, Hussam N</text></g>
<g id="chmutina"><circle class="c22" cx="421" cy="390" r="16"/><text class="lb lg" x="280" y="391" textLength="290" lengthAdjust="spacingAndGlyphs">Chmutina, Ksenia</text></g>
<g id="barroca"><circle class="c17" cx="170" cy="422" r="16"/><circle class="c13" cx="170" cy="422" r="11"/><text class="lb lg" x="92" y="422.5" textLength="164" lengthAdjust="spacingAndGlyphs">Barroca, B</text></g>
<g id="ellingwood"><circle class="c21" cx="1137" cy="433" r="12"/><text class="lb" x="1010.6" y="434" textLength="259.8" lengthAdjust="spacingAndGlyphs">Ellingwood, Bruce R</text></g>
<g id="takeuchi"><circle class="c12" cx="667" cy="453" r="12"/><text class="lb" x="558.5" y="451.7" textLength="224.5" lengthAdjust="spacingAndGlyphs">Takeuchi, Yukiko</text></g>
<g id="hemmati"><circle class="c21" cx="1062" cy="473" r="12"/><text class="lb" x="964" y="473" textLength="201" lengthAdjust="spacingAndGlyphs">Hemmati, Mona</text></g>
<g id="esperon"><circle class="c22" cx="235" cy="490" r="16"/><text class="lb lg" x="11" y="488" textLength="457.5" lengthAdjust="spacingAndGlyphs">Esperon-rodriguez, Manuel</text></g>
<g id="becue"><circle class="c17" cx="571" cy="493.5" r="11"/><circle class="c13" cx="571" cy="493.5" r="6.5"/><text class="lb" x="521" y="493.6" textLength="107.5" lengthAdjust="spacingAndGlyphs">Becue, V</text></g>
<g id="crooks"><circle class="c21" cx="1333.6" cy="506" r="12"/><text class="lb" x="1219" y="506" textLength="233.4" lengthAdjust="spacingAndGlyphs">Crooks, Andrew T</text></g>
<g id="power"><circle class="c22" cx="980.6" cy="526" r="12"/><text class="lb" x="892.4" y="526.7" textLength="182" lengthAdjust="spacingAndGlyphs">Power, Sally A</text></g>
<g id="rymer"><circle class="c22" cx="214" cy="535" r="12"/><text class="lb" x="127" y="535" textLength="180" lengthAdjust="spacingAndGlyphs">Rymer, Paul D</text></g>
<g id="singh"><circle class="c21" cx="1296" cy="550" r="12"/><text class="lb" x="1210.4" y="550.4" textLength="176.2" lengthAdjust="spacingAndGlyphs">Singh, Priya P</text></g>
<g id="monstadt"><circle class="c19" cx="210" cy="571" r="12"/><text class="lb" x="101" y="570" textLength="226" lengthAdjust="spacingAndGlyphs">Monstadt, Jochen</text></g>
<g id="diab"><circle class="c14" cx="685" cy="565" r="12"/><text class="lb" x="639.7" y="568" textLength="91.3" lengthAdjust="spacingAndGlyphs">Diab, Y</text></g>
<g id="peng"><circle class="c22" cx="825.6" cy="562.4" r="12"/><text class="lb" x="780" y="563.5" textLength="102" lengthAdjust="spacingAndGlyphs">Peng, Yi</text></g>
<g id="kapse"><circle class="c21" cx="300" cy="602" r="12"/><text class="lb" x="212.5" y="603" textLength="182.5" lengthAdjust="spacingAndGlyphs">Kapse, Vijay S</text></g>
<g id="balsells"><circle class="c17" cx="576" cy="602" r="11"/><circle class="c13" cx="576" cy="602" r="6.5"/><text class="lb" x="510.5" y="601" textLength="136.5" lengthAdjust="spacingAndGlyphs">Balsells, M</text></g>
<g id="tariq"><circle class="c04" cx="1000.6" cy="600" r="10"/><text class="lb" x="939" y="609.4" textLength="453" lengthAdjust="spacingAndGlyphs">Tariq, Muhammad Atiq Ur Rehman</text></g>
<g id="bonanno"><circle class="c09" cx="884.4" cy="633" r="10"/><text class="lb" x="762.7" y="633" textLength="247.9" lengthAdjust="spacingAndGlyphs">Bonanno, George A</text></g>
<g id="wamsler"><circle class="c12" cx="1263.4" cy="641" r="12"/><text class="lb" x="1140.6" y="640.4" textLength="247.4" lengthAdjust="spacingAndGlyphs">Wamsler, Christine</text></g>
<g id="sabnani"><circle class="c21" cx="356" cy="664" r="12"/><text class="lb" x="232" y="662" textLength="254" lengthAdjust="spacingAndGlyphs">Sabnani, Chandra S</text></g>
<g id="ou"><circle class="c21" cx="949.4" cy="669.5" r="12"/><text class="lb" x="847" y="673.2" textLength="209.4" lengthAdjust="spacingAndGlyphs">Ou, Sheng-Jung</text></g>
<g id="dambrosio"><circle class="c23" cx="334" cy="711" r="12"/><text class="lb" x="209.5" y="711" textLength="254" lengthAdjust="spacingAndGlyphs">D'ambrosio, Valeria</text></g>
<g id="miguez"><circle class="c20" cx="961.4" cy="711.4" r="17"/><text class="lb lg" x="768" y="711.4" textLength="393.4" lengthAdjust="spacingAndGlyphs">Miguez, Marcelo Gomes</text></g>
<g id="tjoelker"><circle class="c22" cx="161" cy="764" r="12"/><text class="lb" x="56" y="764" textLength="214.5" lengthAdjust="spacingAndGlyphs">Tjoelker, Mark G</text></g>
<g id="sidiqui"><circle class="c22" cx="1229" cy="764" r="12"/><text class="lb" x="1143" y="764" textLength="176.6" lengthAdjust="spacingAndGlyphs">Sidiqui, Paras</text></g>
<g id="tersigni"><circle class="c22" cx="459.7" cy="782.4" r="12"/><text class="lb" x="367.5" y="781.6" textLength="187.7" lengthAdjust="spacingAndGlyphs">Tersigni, Enza</text></g>
<g id="verol"><circle class="c20" cx="904.4" cy="791.6" r="12"/><text class="lb" x="794.4" y="791.6" textLength="223.8" lengthAdjust="spacingAndGlyphs">Verol, Aline Pires</text></g>
<g id="bryson"><circle class="c17" cx="155" cy="806" r="12"/><circle class="c13" cx="155" cy="806" r="7"/><text class="lb" x="64.5" y="806" textLength="188" lengthAdjust="spacingAndGlyphs">Bryson, John R</text></g>
<g id="lourenco"><circle class="c20" cx="1239" cy="824.2" r="17"/><text class="lb lg" x="1059.4" y="824.2" textLength="366.4" lengthAdjust="spacingAndGlyphs">Lourenco, Ianic Bigate</text></g>
<g id="dimartino"><circle class="c23" cx="200" cy="842.5" r="12"/><text class="lb" x="53" y="842.6" textLength="302" lengthAdjust="spacingAndGlyphs">Di martino, Ferdinando</text></g>
<g id="visconti"><circle class="c22" cx="518.5" cy="844.2" r="12"/><text class="lb" x="408.5" y="844.4" textLength="223.2" lengthAdjust="spacingAndGlyphs">Visconti, Cristina</text></g>
<g id="dubow"><circle class="c01" cx="845.6" cy="862.4" r="11"/><circle class="c00" cx="845.6" cy="862.4" r="6"/><text class="lb" x="779" y="862.4" textLength="136.2" lengthAdjust="spacingAndGlyphs">Dubow, EF</text></g>
<g id="leone"><circle class="c23" cx="178" cy="882.5" r="12"/><text class="lb" x="33" y="882.6" textLength="295" lengthAdjust="spacingAndGlyphs">Leone, Mattia Federico</text></g>
<g id="mitchell"><circle class="c21" cx="696" cy="899" r="12"/><text class="lb" x="587.2" y="899" textLength="222.8" lengthAdjust="spacingAndGlyphs">Mitchell, Carrie L</text></g>
<g id="ippolito"><circle class="c01" cx="1070.6" cy="919" r="11"/><text class="lb" x="998.2" y="917" textLength="150.8" lengthAdjust="spacingAndGlyphs">Ippolito, MF</text></g>
<g id="zahmatkesh"><circle class="c17" cx="307.5" cy="926" r="12"/><text class="lb" x="184" y="924.3" textLength="250.7" lengthAdjust="spacingAndGlyphs">Zahmatkesh, Zahra</text></g>
<g id="zhangweitao"><circle class="c20" cx="793" cy="967.3" r="12"/><text class="lb" x="700.5" y="967.5" textLength="186.5" lengthAdjust="spacingAndGlyphs">Zhang, Weitao</text></g>
<g id="fitzgibbons"><circle class="c21" cx="474.7" cy="1001" r="12"/><text class="lb" x="348" y="1000" textLength="259.7" lengthAdjust="spacingAndGlyphs">Fitzgibbons, Joanne</text></g>
<g id="liqin"><circle class="c22" cx="632.2" cy="1026" r="12"/><text class="lb" x="594.7" y="1025.8" textLength="81.3" lengthAdjust="spacingAndGlyphs">Li, Qin</text></g>
<g id="bharati"><circle class="c23" cx="369" cy="1064.5" r="12"/><text class="lb" x="311" y="1064" textLength="121.2" lengthAdjust="spacingAndGlyphs">Bharati, L</text></g>
<g id="yun"><circle class="c20" cx="824.4" cy="1065.2" r="12"/><text class="lb" x="743.5" y="1065" textLength="163.5" lengthAdjust="spacingAndGlyphs">Yun, Yingxia</text></g>
</g>
<g id="legend">
<rect x="1468.6" y="852.60" width="90.4" height="9" fill="#a00040"/>
<rect x="1468.6" y="861.55" width="90.4" height="9" fill="#b71c4a"/>
<rect x="1468.6" y="870.50" width="90.4" height="9" fill="#c82c4d"/>
<rect x="1468.6" y="879.45" width="90.4" height="9" fill="#d9434c"/>
<rect x="1468.6" y="888.40" width="90.4" height="9" fill="#e55a4c"/>
<rect x="1468.6" y="897.35" width="90.4" height="9" fill="#f26d44"/>
<rect x="1468.6" y="906.30" width="90.4" height="9" fill="#f78b50"/>
<rect x="1468.6" y="915.25" width="90.4" height="9" fill="#fa9e5a"/>
<rect x="1468.6" y="924.20" width="90.4" height="9" fill="#fcb366"/>
<rect x="1468.6" y="933.15" width="90.4" height="9" fill="#fdc977"/>
<rect x="1468.6" y="942.10" width="90.4" height="9" fill="#fede8a"/>
<rect x="1468.6" y="951.05" width="90.4" height="9" fill="#fff0a6"/>
<rect x="1468.6" y="960.00" width="90.4" height="9" fill="#fefbb9"/>
<rect x="1468.6" y="968.95" width="90.4" height="9" fill="#f5fab0"/>
<rect x="1468.6" y="977.90" width="90.4" height="9" fill="#e7f59b"/>
<rect x="1468.6" y="986.85" width="90.4" height="9" fill="#d6ee9b"/>
<rect x="1468.6" y="995.80" width="90.4" height="9" fill="#bde5a0"/>
<rect x="1468.6" y="1004.75" width="90.4" height="9" fill="#a2d9a4"/>
<rect x="1468.6" y="1013.70" width="90.4" height="9" fill="#87cea5"/>
<rect x="1468.6" y="1022.65" width="90.4" height="9" fill="#68c2a5"/>
<rect x="1468.6" y="1031.60" width="90.4" height="9" fill="#4fa9b1"/>
<rect x="1468.6" y="1040.55" width="90.4" height="9" fill="#3e90bb"/>
<rect x="1468.6" y="1049.50" width="90.4" height="9" fill="#3d78b6"/>
<rect x="1468.6" y="1058.45" width="90.4" height="9" fill="#4f62ab"/>
<rect x="1468.6" y="1067.40" width="90.4" height="8.95" fill="#5e4fa2"/>
<text class="yr" x="1513.8" y="858.8">2024</text>
<text class="yr" x="1513.8" y="867.7">2023</text>
<text class="yr" x="1513.8" y="876.7">2022</text>
<text class="yr" x="1513.8" y="885.6">2021</text>
<text class="yr" x="1513.8" y="894.6">2020</text>
<text class="yr" x="1513.8" y="903.5">2019</text>
<text class="yr" x="1513.8" y="912.5">2018</text>
<text class="yr" x="1513.8" y="921.4">2017</text>
<text class="yr" x="1513.8" y="930.4">2016</text>
<text class="yr" x="1513.8" y="939.3">2015</text>
<text class="yr" x="1513.8" y="948.3">2014</text>
<text class="yr" x="1513.8" y="957.2">2013</text>
<text class="yr" x="1513.8" y="966.2">2012</text>
<text class="yr" x="1513.8" y="975.1">2011</text>
<text class="yr" x="1513.8" y="984.1">2010</text>
<text class="yr" x="1513.8" y="993.0">2009</text>
<text class="yr" x="1513.8" y="1002.0">2008</text>
<text class="yr" x="1513.8" y="1010.9">2007</text>
<text class="yr" x="1513.8" y="1019.9">2006</text>
<text class="yr" x="1513.8" y="1028.8">2005</text>
<text class="yr" x="1513.8" y="1037.8">2004</text>
<text class="yr" x="1513.8" y="1046.7">2003</text>
<text class="yr" x="1513.8" y="1055.7">2002</text>
<text class="yr" x="1513.8" y="1064.6">2001</text>
<text class="yr" x="1513.8" y="1073.6">2000</text>
</g>
</g>
</svg>
